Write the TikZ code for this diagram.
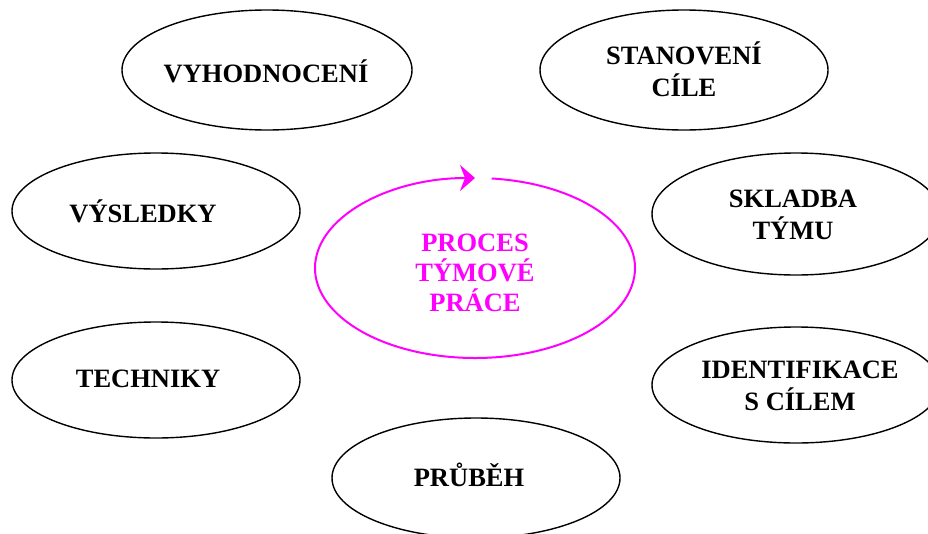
\documentclass[tikz,border=0pt]{standalone}
\usepackage{fontspec}
\setmainfont{Liberation Serif}
\usetikzlibrary{shapes.geometric,arrows.meta}
\definecolor{procmag}{HTML}{FF00FF}
\tikzset{
  oval/.style={draw=black, line width=1.4pt, ellipse, inner sep=0pt, minimum width=288pt},
  ovaltext/.style={font=\bfseries\fontsize{26.5}{32}\selectfont, align=center, inner sep=0pt, text=black},
  proctext/.style={font=\bfseries\fontsize{26.5}{30}\selectfont, align=center, inner sep=0pt, text=procmag},
  cycle/.style={draw=procmag, line width=2pt, -{Stealth[length=15pt, width=26pt, inset=5pt]}}
}
\begin{document}
\begin{tikzpicture}[x=1pt, y=-1pt]
\useasboundingbox (0,0) rectangle (928,533);
\clip (0,0) rectangle (928,533);
% ellipses
\node[oval, minimum width=290pt, minimum height=120pt] (vyh) at (267,70) {};
\node[oval, minimum height=120pt] (sta) at (684,70) {};
\node[oval, minimum height=116pt] (vys) at (156,211) {};
\node[oval, minimum height=122pt] (skl) at (796,214) {};
\node[oval, minimum height=116pt] (tec) at (156,380) {};
\node[oval, minimum height=116pt] (ide) at (796,385) {};
\node[oval, minimum height=120pt] (pru) at (476,478) {};
% texts
\node[ovaltext] (vyhT) at (266,71) {VYHODNOCENÍ};
\node[ovaltext] (staT) at (684,69.5) {STANOVENÍ\\CÍLE};
\node[ovaltext] (vysT) at (143,211) {VÝSLEDKY};
\node[ovaltext] (sklT) at (793,215) {SKLADBA\\TÝMU};
\node[ovaltext] (tecT) at (148,379) {TECHNIKY};
\node[ovaltext] (ideT) at (800,385.5) {IDENTIFIKACE\\S CÍLEM};
\node[ovaltext] (pruT) at (469,475) {PRŮBĚH};
% central cycle
\coordinate (cen) at (475,268);
\draw[cycle] (cen) ++(84:160pt and 90pt) arc[start angle=84, end angle=-270, x radius=160pt, y radius=90pt];
\node[proctext] (proc) at (475,272.5) {PROCES\\TÝMOVÉ\\PRÁCE};
\end{tikzpicture}
\end{document}
